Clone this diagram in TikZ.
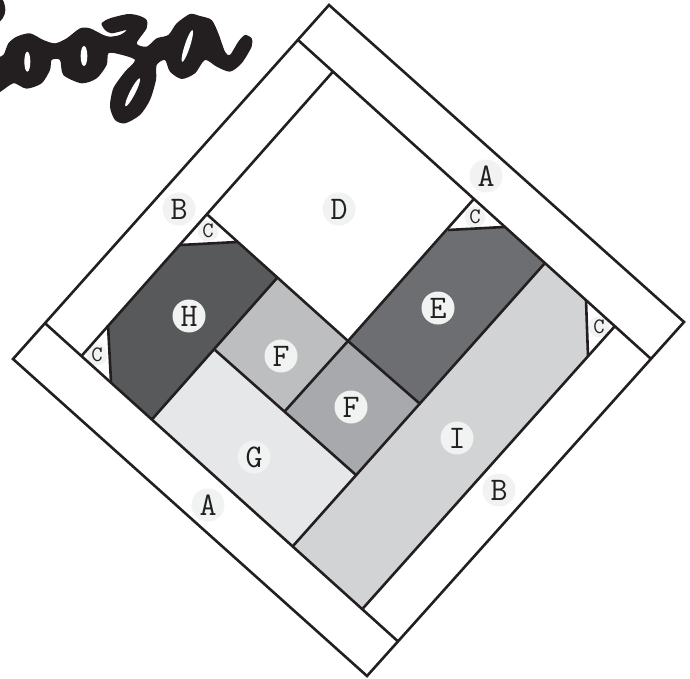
\documentclass[tikz,border=0pt]{standalone}
\definecolor{ink}{HTML}{231F20}
\definecolor{chip}{HTML}{F1F2F2}
\definecolor{patchH}{HTML}{58595B}
\definecolor{patchE}{HTML}{6D6E71}
\definecolor{patchFa}{HTML}{BCBEC0}
\definecolor{patchFb}{HTML}{A7A9AC}
\definecolor{patchG}{HTML}{E6E7E8}
\definecolor{patchI}{HTML}{D1D3D4}
\begin{document}
\begin{tikzpicture}[x=1pt,y=-1pt,
  patch/.style={fill=#1,draw=none},
  seam/.style={draw=ink,line width=2.6pt,line join=miter},
  lab/.style={circle,fill=chip,minimum size=33pt,inner sep=0pt,font=\ttfamily\fontsize{33}{33}\selectfont,text=ink},
  mini/.style={circle,fill=chip,minimum size=21pt,inner sep=0pt,font=\ttfamily\fontsize{22}{22}\selectfont,text=ink}]
\useasboundingbox (0,0) rectangle (690,679);
% lettering
\begin{scope}
\clip (0,0) rectangle (690,679);
\begin{scope}[x=0.3333pt,y=-0.3333pt]
\fill[ink] plot[smooth cycle,tension=.45] coordinates {(-20,282) (30,255) (45,250) (80,266) (125,250) (150,210) (155,180) (180,180) (190,225) (245,250) (290,235) (320,195) (325,160) (355,162) (405,180) (375,215) (340,265) (330,320) (345,360) (375,370) (420,345) (450,300) (468,240) (470,195) (495,180) (510,215) (545,237) (585,220) (615,180) (650,200) (690,215) (725,190) (755,140) (755,115) (735,105) (715,125) (690,165) (675,155) (655,100) (635,60) (600,48) (570,42) (530,70) (505,105) (470,115) (440,140) (410,130) (440,85) (440,60) (420,48) (385,42) (330,55) (305,70) (315,90) (335,100) (380,90) (360,105) (330,110) (310,105) (270,85) (240,85) (200,115) (165,130) (130,120) (90,100) (50,110) (25,130) (10,165) (-20,185)};
\fill[ink] plot[smooth cycle,tension=.5] coordinates {(-20,-10) (8,0) (16,30) (8,55) (-20,75)};
\fill[white] (82,185) ellipse[x radius=9,y radius=30];
\fill[white] (252,168) ellipse[x radius=10,y radius=30];
\fill[white,rotate around={-27:(398,277)}] (398,277) ellipse[x radius=8,y radius=47];
\fill[white,rotate around={-18:(562,138)}] (562,138) ellipse[x radius=8,y radius=50];
\end{scope}
\end{scope}
% patches
\path[patch=white] (329,5)--(684,322)--(367,676)--(13,359)--cycle;
\path[patch=patchH] (152,419)--(215,350)--(277,278)--(237,242)--(180,245)--(108,325)--(111,382)--cycle;
\path[patch=patchE] (348,341)--(448,230)--(504,227)--(545,263)--(419,403)--cycle;
\path[patch=patchFa] (277,278)--(348,341)--(285,411)--(215,350)--cycle;
\path[patch=patchFb] (348,341)--(419,403)--(356,475)--(285,411)--cycle;
\path[patch=patchG] (215,350)--(285,411)--(356,475)--(293,546)--(152,419)--cycle;
\path[patch=patchI] (545,263)--(586,300)--(588,356)--(363,608)--(293,546)--(356,475)--(419,403)--cycle;
% labels
\node[lab] (labB1) at (179,209) {B};
\node[lab] (labA1) at (486,176) {A};
\node[lab] (labD) at (339,209) {D};
\node[lab] (labH) at (189,316) {H};
\node[lab] (labE) at (438,308) {E};
\node[lab] (labF1) at (281,356) {F};
\node[lab] (labF2) at (351,407) {F};
\node[lab] (labG) at (254,457) {G};
\node[lab] (labI) at (457,438) {I};
\node[lab] (labB2) at (499,490) {B};
\node[lab] (labA2) at (208,505) {A};
\node[mini] (labC1) at (208,231) {C};
\node[mini] (labC2) at (97,355) {C};
\node[mini] (labC3) at (475,217) {C};
\node[mini] (labC4) at (599,327) {C};
% seams
\coordinate (top) at (329,5);
\coordinate (right) at (684,322);
\coordinate (bottom) at (367,676);
\coordinate (left) at (13,359);
\coordinate (ja) at (298,40);
\coordinate (jb) at (651,358.9);
\coordinate (jc) at (398,641.4);
\coordinate (jd) at (45,323.2);
\draw[seam] (top)--(right)--(bottom)--(left)--cycle;
\draw[seam] (ja)--(jb);
\draw[seam] (jc)--(jd);
\draw[seam] (333,71.6)--(81.5,356);
\draw[seam] (615,326)--(363,608.3);
\draw[seam] (207,214.3)--(348,341)--(474,198.8);
\draw[seam] (348,341)--(419,403);
\draw[seam] (545,263)--(293,546);
\draw[seam] (277,278)--(152,419.4);
\draw[seam] (348,341)--(285,411);
\draw[seam] (215,350)--(356,475);
\draw[seam] (180,245)--(237,242);
\draw[seam] (108,325)--(111,382);
\draw[seam] (448,230)--(504,227);
\draw[seam] (586,300)--(588,356);
\end{tikzpicture}
\end{document}
